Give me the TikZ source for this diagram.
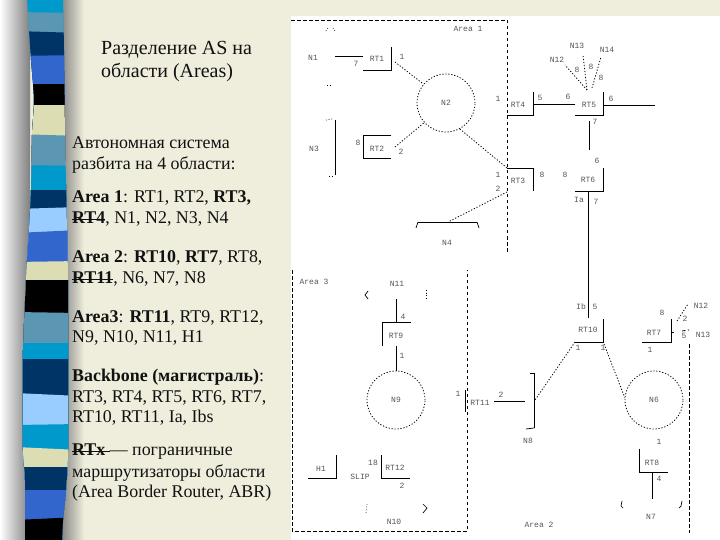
\documentclass[tikz,border=0pt]{standalone}
\usepackage{fontspec}
\setmainfont{Liberation Serif}
\newfontfamily\labfont{Liberation Mono}
\definecolor{bgbeige}{HTML}{EFEDDC}
\definecolor{sA}{HTML}{0099CC}
\definecolor{sB}{HTML}{5B97B3}
\definecolor{sC}{HTML}{003366}
\definecolor{sD}{HTML}{3366CC}
\definecolor{sE}{HTML}{DDDDB3}
\definecolor{sF}{HTML}{99CCFF}
\definecolor{txt}{HTML}{111111}
\definecolor{lab}{HTML}{555555}
\newcommand\stk[1]{\setbox0\hbox{\textbf{#1}}\rlap{\rule[3pt]{\wd0}{1.2pt}}\box0}
\tikzset{
  body/.style={anchor=base west,inner sep=0pt,font=\fontsize{17.9pt}{20pt}\selectfont,text=txt},
  ttl/.style={anchor=base west,inner sep=0pt,font=\fontsize{20pt}{23pt}\selectfont,text=txt},
  lbl/.style={inner sep=0pt,font=\labfont\fontsize{8pt}{9pt}\selectfont,text=lab},
  net/.style={circle,draw,dash pattern=on 1.2pt off 1.8pt,line width=0.8pt,minimum size=58pt,inner sep=0pt,font=\labfont\fontsize{8pt}{9pt}\selectfont,text=lab},
  wire/.style={line width=0.9pt},
  link/.style={dash pattern=on 1.2pt off 1.8pt,line width=0.8pt},
  arealine/.style={dash pattern=on 3.5pt off 2.5pt,line width=0.8pt},
  curl/.style={line width=0.7pt}
}
\begin{document}
\begin{tikzpicture}[x=1pt,y=-1pt]
\useasboundingbox (0,0) rectangle (720,540);
\fill[bgbeige] (0,0) rectangle (720,540);
\fill[white] (291,16) rectangle (720,540);
% left stripe with shadows
\shade[left color=white,right color=black!50] (0,0) rectangle (30,540);
\shade[left color=black!50,right color=bgbeige] (60,0) rectangle (84,540);
\begin{scope}
\clip plot[smooth] coordinates {(27,-2) (29,30) (31,60) (34,100) (32,135) (31,190) (29,230) (27,260) (26,280) (23,350) (23,400) (23,450) (25,480) (25,520) (25,542)}
 -- plot[smooth] coordinates {(62,542) (63,520) (66,490) (68,450) (68,350) (68,280) (67,230) (65,135) (64,50) (63,-2)} -- cycle;
\foreach \a/\b/\c in {-2/-2/sA,12/13/sB,31/33/sC,56/55/sD,84/84/black,105/105/sE,134/136/sB,165/166/sA,190/190/sC,209/207/sF,233/230/sD,262/261/sE,280/280/black,312/313/sB,343/343/sA,359/359/sC,393/396/sF,425/424/sA,447/450/sE,467/467/sC,490/490/sD,520/517/black}
  \fill[\c] (15,\a) -- (80,\b) -- (80,545) -- (15,545) -- cycle;
\end{scope}
% texts
\node[ttl] (t1) at (101,55) {Разделение AS на};
\node[ttl] (t2) at (101,78) {области (Areas)};
\node[body] (b1) at (72,149) {Автономная система};
\node[body] (b2) at (72,170) {разбита на 4 области:};
\node[body] (b3) at (72,203) {\textbf{Area 1}: RT1, RT2, \textbf{RT3,}};
\node[body] (b4) at (72,223) {\stk{RT4}, N1, N2, N3, N4};
\node[body] (b5) at (72,262) {\textbf{Area 2}: \textbf{RT10}, \textbf{RT7}, RT8,};
\node[body] (b6) at (72,283) {\stk{RT11}, N6, N7, N8};
\node[body] (b7) at (72,322) {\textbf{Area3}: \textbf{RT11}, RT9, RT12,};
\node[body] (b8) at (72,342) {N9, N10, N11, H1};
\node[body] (b9) at (72,381) {\textbf{Backbone (магистраль)}:};
\node[body] (b10) at (72,402) {RT3, RT4, RT5, RT6, RT7,};
\node[body] (b11) at (72,422) {RT10, RT11, Ia, Ibs};
\node[body] (b12) at (72,455) {\stk{RTx~}--- пограничные};
\node[body] (b13) at (72,477) {маршрутизаторы области};
\node[body] (b14) at (72,497) {(Area Border Router, ABR)};
% networks
\node[net] (N2) at (446,103) {N2};
\node[net] (N9) at (396,400) {N9};
\node[net] (N6) at (654,400) {N6};
% area borders
\draw[arealine] (291,20) -- (507,20) -- (507,253);
\draw[arealine] (292,270) -- (292,531) -- (467,531) -- (467,270);
\draw[arealine] (682,331) -- (689,330);
\draw[arealine] (689,344) -- (689,533);
% Labels
\foreach \x/\y/\t in {468/29/Area 1,314/282/Area 3,539/525/Area 2,
 313/58/N1,314/149/N3,447/243/N4,397/284/N11,394/522/N10,528/441/N8,651/517/N7,
 557/60/N12,577/46/N13,607/50/N14,701/306/N12,703/335/N13,321/469/H1,360/477/SLIP,
 377/59/RT1,377/149/RT2,518/105/RT4,589/105/RT5,518/181/RT3,588/180/RT6,396/336/RT9,395/468/RT12,
 480/403/RT11,588/330/RT10,654/333/RT7,652/463/RT8,
 356/64/7,402/57/1,358/143/8,401/152/2,498/99/1,498/175/1,498/189/2,540/98/5,568/97/6,611/99/6,595/122/7,597/161/6,
 579/200/Ia,596/202/7,542/175/8,565/175/8,577/70/8,591/67/8,601/78/8,403/317/4,402/356/1,373/463/18,402/486/2,
 458/394/1,501/395/2,581/307/Ib,595/307/5,578/348/1,603/348/1,659/442/1,659/479/4,662/313/8,685/319/2,684/336/5,650/350/1}
  \node[lbl] at (\x,\y) {\t};
% named end points
\coordinate (a1) at (335,56); \coordinate (a2) at (363,56);
\coordinate (r1a) at (363,70); \coordinate (r1b) at (391,70); \coordinate (r1c) at (391,47);
\coordinate (r1p) at (395,62);
\coordinate (n3a) at (335,120); \coordinate (n3b) at (335,175);
\coordinate (r2a) at (391,135); \coordinate (r2b) at (363,135); \coordinate (r2c) at (363,158); \coordinate (r2d) at (391,158);
\coordinate (r2p) at (395,147);
\coordinate (r3a) at (507,168); \coordinate (r3b) at (533,168); \coordinate (r3c) at (533,191);
\coordinate (r3p) at (507,192);
\coordinate (n4a) at (418,222); \coordinate (n4b) at (477,222); \coordinate (n4m) at (448,222);
\coordinate (r4a) at (507,115); \coordinate (r4b) at (533,115); \coordinate (r4c) at (533,92); \coordinate (r4p) at (533,104);
\coordinate (r5a) at (575,115); \coordinate (r5b) at (603,115); \coordinate (r5c) at (603,92);
\coordinate (r5l) at (575,104); \coordinate (r5r) at (603,105); \coordinate (r5e) at (655,105);
\coordinate (r5d) at (589,121); \coordinate (r6u) at (589,150);
\coordinate (r6a) at (575,191); \coordinate (r6b) at (603,191); \coordinate (r6c) at (603,168); \coordinate (r6d) at (588,191);
\coordinate (r10u) at (588,318);
\coordinate (r10a) at (575,342); \coordinate (r10b) at (603,342); \coordinate (r10c) at (603,319); \coordinate (r10p) at (604,344);
\coordinate (n8a) at (534,373); \coordinate (n8b) at (534,428); \coordinate (n8m) at (535,400);
\coordinate (r11a) at (465,390); \coordinate (r11b) at (465,412); \coordinate (r11c) at (494,401); \coordinate (r11d) at (525,401);
\coordinate (r7a) at (642,342); \coordinate (r7b) at (671,342); \coordinate (r7c) at (671,319); \coordinate (r7p) at (671,332); \coordinate (r7q) at (674,332);
\coordinate (r7r) at (677,321); \coordinate (r7s) at (688,304);
\coordinate (r8a) at (639,449); \coordinate (r8b) at (639,472); \coordinate (r8c) at (668,472); \coordinate (r8d) at (652,472); \coordinate (n7m) at (652,499);
\coordinate (n11m) at (396,299); \coordinate (r9a) at (382,346); \coordinate (r9b) at (382,322); \coordinate (r9c) at (411,322); \coordinate (r9t) at (396,322); \coordinate (r9d) at (396,346);
\coordinate (h1a) at (308,478); \coordinate (h1b) at (336,478); \coordinate (h1c) at (336,455);
\coordinate (r12a) at (381,455); \coordinate (r12b) at (381,478); \coordinate (r12c) at (410,478);
\coordinate (n5a) at (587,90); \coordinate (n12) at (565,65); \coordinate (n13) at (583,55); \coordinate (n5b) at (592,88); \coordinate (n14) at (601,57);
% wires
\draw[wire] (a1) -- (a2);
\draw[wire] (r1a) -- (r1b) -- (r1c);
\draw[wire] (n3a) -- (n3b);
\draw[wire] (r2a) -- (r2b) -- (r2c) -- (r2d);
\draw[wire] (r3a) -- (r3b) -- (r3c);
\draw[wire] (n4a) -- (n4b);
\draw[wire] (r4a) -- (r4b) -- (r4c);
\draw[wire] (r5a) -- (r5b) -- (r5c);
\draw[wire] (r4p) -- (r5l);
\draw[wire] (r5r) -- (r5e);
\draw[wire] (r5d) -- (r6u);
\draw[wire] (r6a) -- (r6b) -- (r6c);
\draw[wire] (r6d) -- (r10u);
\draw[wire] (r10a) -- (r10b) -- (r10c);
\draw[wire] (n8a) -- (n8b);
\draw[wire] (r11a) -- (r11b);
\draw[wire] (r11c) -- (r11d);
\draw[wire] (r7a) -- (r7b) -- (r7c);
\draw[wire] (r7p) -- (r7q);
\draw[wire] (r8a) -- (r8b) -- (r8c);
\draw[wire] (r8d) -- (n7m);
\draw[wire] (n11m) -- (r9t);
\draw[wire] (r9a) -- (r9b) -- (r9c);
\draw[wire] (r9d) -- (N9);
\draw[wire] (h1a) -- (h1b) -- (h1c);
\draw[wire] (r12a) -- (r12b) -- (r12c);
% dotted links
\draw[link] (r1p) -- (N2.140);
\draw[link] (r2p) -- (N2.222);
\draw[link] (N2.-62) -- (r3a);
\draw[link] (r3p) -- (n4m);
\draw[link] (r10a) -- (n8m);
\draw[link] (r10p) -- (N6.175);
\draw[link] (n5a) -- (n12);
\draw[link] (n5a) -- (n13);
\draw[link] (n5b) -- (n14);
\draw[link] (r7r) -- (r7s);
% network curls
\draw[curl] (416,228) -- (418,222);
\draw[curl] (477,222) -- (479,228);
\draw[curl] (530,373) -- (534,373);
\draw[curl] (534,428) -- (526,429);
\draw[curl] (368,291) -- (365,295) -- (368,299);
\draw[curl,dotted] (426,290) -- (426,300);
\draw[curl,dotted] (367,504) -- (366,513);
\draw[curl] (423,504) -- (427,508) -- (423,513);
\draw[curl] (622,501) -- (621,506) -- (623,508);
\draw[curl] (682,501) -- (681,506) -- (679,508);
\draw[curl,dotted] (326,31) -- (328,28);
\draw[curl,dotted] (333,28) -- (335,31);
\draw[curl,dotted] (327,85) -- (330,85);
\draw[curl,dotted] (326,120) -- (332,119);
\draw[curl,dotted] (329,176) -- (333,176);
\end{tikzpicture}
\end{document}
